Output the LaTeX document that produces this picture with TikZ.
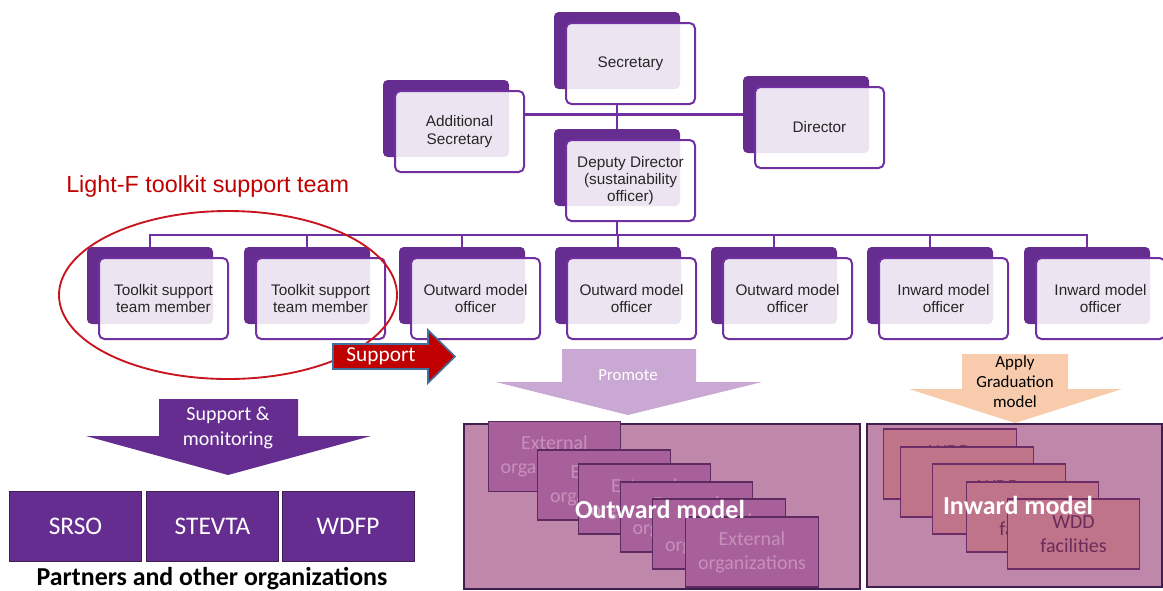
\documentclass[tikz,border=0pt]{standalone}
\usepackage{fontspec}
\setmainfont{Liberation Sans}
\newfontfamily\calib{Carlito}
\definecolor{orgpurple}{HTML}{662D91}
\definecolor{edgepurple}{HTML}{7030A0}
\definecolor{teamred}{HTML}{C00000}
\definecolor{ringred}{HTML}{C8141E}
\definecolor{arrowedge}{HTML}{41719C}
\definecolor{promote}{HTML}{C9A9D3}
\definecolor{peach}{HTML}{F8CBAD}
\definecolor{modelfill}{HTML}{BF88AB}
\definecolor{modeledge}{HTML}{3F1F4F}
\definecolor{extfill}{HTML}{A8609A}
\definecolor{extedge}{HTML}{5E2A62}
\definecolor{exttext}{HTML}{C690BB}
\definecolor{wddfill}{HTML}{C07489}
\definecolor{wddedge}{HTML}{6E2C66}
\definecolor{wddtext}{HTML}{6A2C5C}
\definecolor{inktext}{HTML}{262626}
\tikzset{
  backbox/.style={rectangle, rounded corners=3.5pt, fill=orgpurple, inner sep=0pt,
    minimum width=94.5pt, minimum height=57.75pt},
  frontbox/.style={rectangle, rounded corners=4pt, draw=edgepurple, line width=1.5pt,
    fill=white, fill opacity=0.88, text opacity=1, inner sep=0pt,
    minimum width=96.75pt, minimum height=60.75pt, align=center, text=inktext,
    font=\fontsize{11.5}{13}\selectfont},
  conn/.style={draw=edgepurple, line width=1.8pt},
  busline/.style={draw=edgepurple, line width=1.4pt},
  partner/.style={rectangle, fill=orgpurple, draw=modeledge, line width=0.6pt,
    minimum width=99pt, minimum height=53pt, inner sep=0pt, text=white,
    font=\calib\fontsize{19}{22}\selectfont},
  extbox/.style={rectangle, fill=extfill, draw=extedge, line width=0.9pt,
    minimum width=99.5pt, minimum height=52.5pt, inner sep=0pt, align=center,
    text=exttext, font=\calib\fontsize{15}{18}\selectfont},
  wddbox/.style={rectangle, fill=wddfill, draw=wddedge, line width=0.9pt,
    minimum width=99.5pt, minimum height=52.5pt, inner sep=0pt, align=center,
    text=wddtext, font=\calib\fontsize{15}{17.5}\selectfont},
  modelbox/.style={rectangle, fill=modelfill, draw=modeledge, line width=1.8pt,
    inner sep=0pt},
  modeltitle/.style={text=white, font=\calib\bfseries\fontsize{19.5}{22}\selectfont},
}
% one org-chart unit: shadow card (name-b) behind the labelled card (name);
% #2,#3 = top-left corner of the shadow card
\newcommand\orgunit[4]{%
  \node[backbox] (#1-b) at (#2+63,#3+38.5) {};
  \node[frontbox] (#1) at (#2+76.5,#3+51.5) {#4};
}
\begin{document}
\begin{tikzpicture}[x=0.75pt,y=-0.75pt]
\useasboundingbox (0,0) rectangle (1163,590);

% ---- top of the chart ----
\orgunit{sec}{554}{12}{Secretary}
\orgunit{addsec}{383}{80}{Additional\\Secretary}
\orgunit{dir}{743}{76}{Director}
\orgunit{dep}{554}{129}{Deputy Director\\(sustainability\\officer)}

\draw[conn] (sec-b.center |- sec.south) -- (dep-b.north);
\draw[conn] (addsec.east |- dir-b.west) -- (dir-b.west);

% ---- officers ----
\orgunit{tk1}{87}{247}{Toolkit support\\team member}
\orgunit{tk2}{244}{247}{Toolkit support\\team member}
\orgunit{ow1}{399}{247}{Outward model\\officer}
\orgunit{ow2}{555}{247}{Outward model\\officer}
\orgunit{ow3}{711}{247}{Outward model\\officer}
\orgunit{iw1}{867}{247}{Inward model\\officer}
\orgunit{iw2}{1024}{247}{Inward model\\officer}

\foreach \n in {tk1,tk2,ow1,ow2,ow3,iw1,iw2}
  \draw[busline] (dep-b.center |- dep.south) -- ++(0,13) -| (\n-b.north);

% ---- toolkit support team ----
\node[anchor=west, text=teamred, inner sep=0pt, font=\fontsize{17.5}{20}\selectfont]
  (teamlabel) at (66,186) {Light-F toolkit support team};
\draw[ringred, line width=1.4pt] (228,295) ellipse [x radius=126.75pt, y radius=63pt];

% red "Support" arrow
\draw[fill=teamred, draw=arrowedge, line width=1.2pt, line join=miter]
  (333,344) -- (428,344) -- (428,330) -- (455,356.5) -- (428,383) -- (428,369)
  -- (333,369) -- cycle;
\node[text=white, font=\calib\fontsize{16}{18}\selectfont] (supp) at (381,356) {Support};

% ---- support & monitoring to partners ----
\fill[orgpurple] (159,399) -- (298,399) -- (298,436) -- (371,436) -- (228,475)
  -- (86,436) -- (159,436) -- cycle;
\node[text=white, align=center, font=\calib\fontsize{15}{18.5}\selectfont] (suppmon)
  at (228,428) {Support \&\\monitoring};

\node[partner] (srso) at (75.5,526.5) {SRSO};
\node[partner] (stevta) at (212.5,526.5) {STEVTA};
\node[partner] (wdfp) at (348,526.5) {WDFP};
\node[font=\calib\bfseries\fontsize{19.4}{22}\selectfont, inner sep=0pt] (partners)
  at (212,579) {Partners and other organizations};

% ---- outward model ----
\fill[promote] (562,349) -- (696,349) -- (696,382) -- (762,382) -- (628,415)
  -- (496,382) -- (562,382) -- cycle;
\node[text=white, font=\calib\fontsize{12.6}{15}\selectfont] (promote) at (628,375) {Promote};

\node[modelbox, minimum width=297pt, minimum height=123.75pt, anchor=north west]
  (outward) at (463,423) {};
\node[extbox] (e1) at (554.5,456.5) {External\\organizations};
\node[extbox] (e2) at (604,485)   {External\\organizations};
\node[extbox] (e3) at (644.5,499) {External\\organizations};
\node[extbox] (e4) at (686.5,517) {External\\organizations};
\node[extbox] (e5) at (719,534)   {External\\organizations};
\node[extbox] (e6) at (752,552)   {External\\organizations};
\node[modeltitle] (outtitle) at (660,509) {Outward model};

% ---- inward model ----
\fill[peach] (962,354) -- (1068,354) -- (1068,389) -- (1122,389) -- (1015,423)
  -- (909,389) -- (962,389) -- cycle;
\node[align=center, text=black, font=\calib\fontsize{12.7}{15}\selectfont] (apply)
  at (1015,382) {Apply\\Graduation\\model};

\node[modelbox, minimum width=221.25pt, minimum height=122.25pt, anchor=north west]
  (inward) at (866,423) {};
\node[wddbox] (w1) at (950,464)    {WDD\\facilities};
\node[wddbox] (w2) at (967,482)    {WDD\\facilities};
\node[wddbox] (w3) at (999,499)    {WDD\\facilities};
\node[wddbox] (w4) at (1032.5,517) {WDD\\facilities};
\node[wddbox] (w5) at (1073.5,534) {WDD\\facilities};
\node[modeltitle] (intitle) at (1018,505) {Inward model};
\end{tikzpicture}
\end{document}
